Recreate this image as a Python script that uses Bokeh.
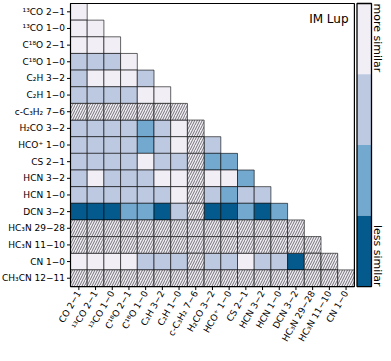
import math
from bokeh.plotting import figure
from bokeh.models import Range1d
from bokeh.core.properties import value
from bokeh.embed import file_html
from bokeh.resources import INLINE

# ---- data ----
row_labels = ["¹³CO 2−1", "¹³CO 1−0", "C¹⁸O 2−1", "C¹⁸O 1−0", "C₂H 3−2", "C₂H 1−0",
              "c-C₃H₂ 7−6", "H₂CO 3−2", "HCO⁺ 1−0", "CS 2−1", "HCN 3−2", "HCN 1−0",
              "DCN 3−2", "HC₃N 29−28", "HC₃N 11−10", "CN 1−0", "CH₃CN 12−11"]
col_labels = ["CO 2−1", "¹³CO 2−1", "¹³CO 1−0", "C¹⁸O 2−1", "C¹⁸O 1−0", "C₂H 3−2",
              "C₂H 1−0", "c-C₃H₂ 7−6", "H₂CO 3−2", "HCO⁺ 1−0", "CS 2−1", "HCN 3−2",
              "HCN 1−0", "DCN 3−2", "HC₃N 29−28", "HC₃N 11−10", "CN 1−0"]
H = -1  # no data (hatched)
levels = [
    [0],
    [0, 0],
    [0, 0, 0],
    [1, 1, 1, 0],
    [1, 0, 0, 0, 1],
    [1, 1, 1, 1, 0, 0],
    [H, H, H, H, H, H, H],
    [1, 1, 1, 1, 2, 1, 0, H],
    [1, 1, 1, 1, 2, 1, 0, H, 1],
    [1, 1, 1, 1, 0, 1, 1, H, 2, 2],
    [1, 0, 1, 1, 1, 0, 0, H, 0, 0, 2],
    [1, 1, 1, 1, 1, 1, 0, H, 1, 2, 1, 1],
    [3, 3, 3, 2, 2, 3, 1, H, 3, 3, 2, 3, 2],
    [H] * 14,
    [H] * 15,
    [0, 0, 0, 0, 1, 1, 1, H, 1, 1, 0, 1, 1, 3, H, H],
    [H] * 17,
]
palette = ["#f1eef6", "#bdc9e1", "#74a9cf", "#045a8d"]
cbar_levels = [0, 1, 2, 3]
title = "IM Lup"
cbar_top_label = "more similar"
cbar_bottom_label = "less similar"

n = len(row_labels)
FONT = "DejaVu Sans"

# pixel geometry -> data ranges (1 unit = 1 cell)
W, Hpx = 383, 345
left_px, top_px = 70.0, 3.0
cw, ch = 16.7, 16.65

xs, ys, cs = [], [], []
hx, hy = [], []
for i, row in enumerate(levels):
    for j, v in enumerate(row):
        if v == H:
            hx.append(j + 0.5); hy.append(i + 0.5)
        else:
            xs.append(j + 0.5); ys.append(i + 0.5); cs.append(palette[v])

p = figure(width=W, height=Hpx, output_backend="svg", toolbar_location=None,
           x_range=Range1d(-left_px / cw, (W - left_px) / cw),
           y_range=Range1d((Hpx - top_px) / ch, -top_px / ch),
           min_border_left=0, min_border_right=0, min_border_top=0, min_border_bottom=0)
p.axis.visible = False
p.grid.visible = False
p.outline_line_color = None
p.background_fill_color = "white"

p.rect(x=xs, y=ys, width=1, height=1, fill_color=cs, line_color="black",
       line_alpha=0.6, line_width=1)
p.rect(x=hx, y=hy, width=1, height=1, fill_color=palette[0], line_color="black",
       line_alpha=0.6, line_width=1, hatch_pattern="/", hatch_color="black",
       hatch_alpha=0.75, hatch_weight=0.7, hatch_scale=5)

# axes box
p.quad(left=[0], right=[n], top=[0], bottom=[n], fill_color=None, line_color="black", line_width=1.2)

# left ticks + labels
yt = [i + 0.5 for i in range(n)]
p.segment(x0=[-3.5 / cw] * n, y0=yt, x1=[0] * n, y1=yt, line_color="black", line_width=1)
p.text(x=[-5.5 / cw] * n, y=yt, text=row_labels, text_align="right", text_baseline="middle",
       text_font=value(FONT), text_font_size="9px", text_color="black")

# bottom ticks + rotated labels
m = len(col_labels)
xt = [j + 0.5 for j in range(m)]
p.segment(x0=xt, y0=[n] * m, x1=xt, y1=[n + 3.5 / ch] * m, line_color="black", line_width=1)
p.text(x=xt, y=[n + 5 / ch] * m, text=col_labels, angle=math.pi / 3,
       text_align="right", text_baseline="middle", text_font=value(FONT),
       text_font_size="9px", text_color="black")

# colorbar
seg = n / len(cbar_levels)
cb_l, cb_r = (356.5 - left_px) / cw, (371 - left_px) / cw
p.quad(left=[cb_l] * 4, right=[cb_r] * 4,
       top=[k * seg for k in cbar_levels], bottom=[(k + 1) * seg for k in cbar_levels],
       fill_color=[palette[k] for k in cbar_levels], line_color=None)
p.quad(left=[cb_l], right=[cb_r], top=[0], bottom=[n], fill_color=None, line_color="black", line_width=1.3)
tx = (377 - left_px) / cw
p.text(x=[tx], y=[0], text=[cbar_top_label], angle=-math.pi / 2, text_align="left",
       text_baseline="middle", text_font=value(FONT), text_font_size="11px", text_color="black")
p.text(x=[tx], y=[n], text=[cbar_bottom_label], angle=-math.pi / 2, text_align="right",
       text_baseline="middle", text_font=value(FONT), text_font_size="11px", text_color="black")

p.text(x=[16.65], y=[0.95], text=[title], text_align="right", text_baseline="alphabetic",
       text_font=value(FONT), text_font_size="12px", text_color="black")

open("out.html", "w").write(file_html(p, INLINE))
